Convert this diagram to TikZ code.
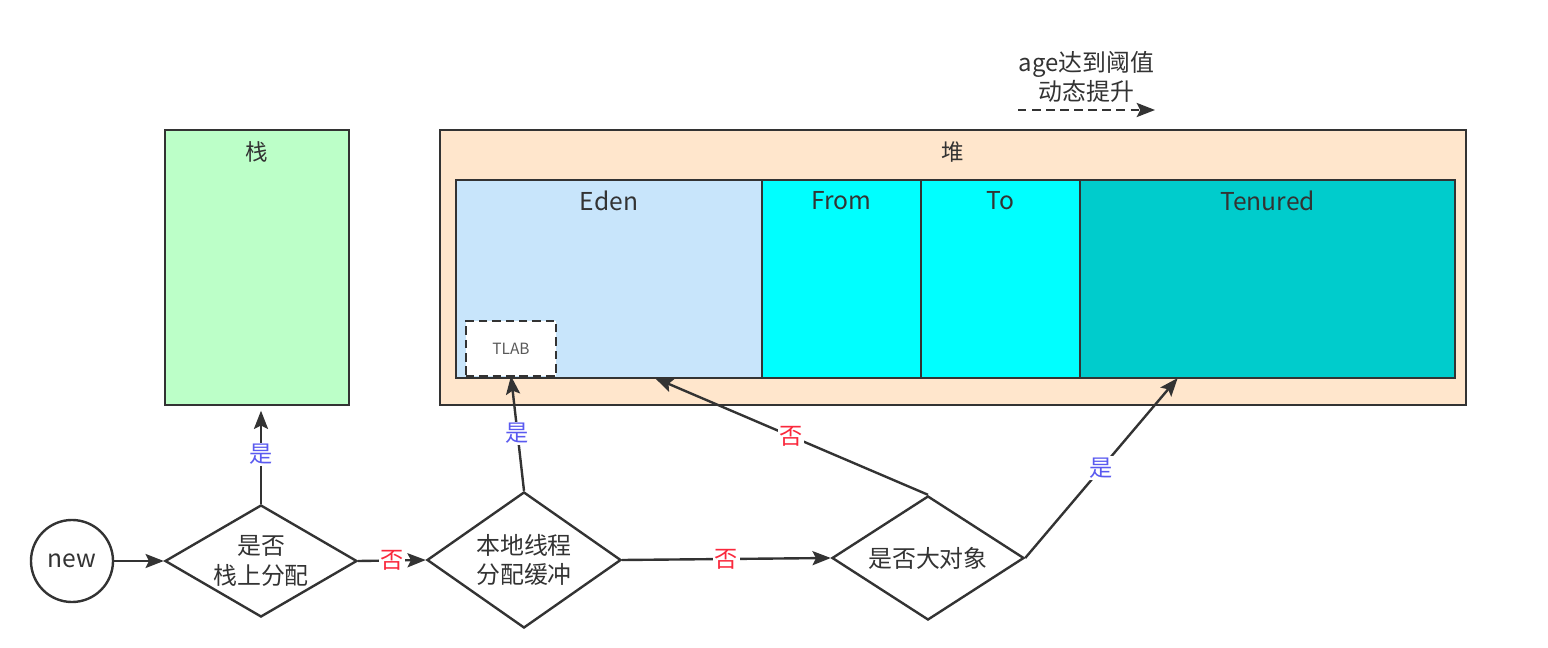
\documentclass[tikz,border=0pt]{standalone}
\usepackage{fontspec}
\setmainfont{Noto Sans CJK SC}
\usetikzlibrary{shapes.geometric,arrows.meta,positioning}
\definecolor{linec}{HTML}{333333}
\definecolor{txtc}{HTML}{333333}
\definecolor{stackc}{RGB}{188,255,200}
\definecolor{heapc}{HTML}{FFE6CC}
\definecolor{edenc}{HTML}{C8E5FB}
\definecolor{survc}{HTML}{00FFFF}
\definecolor{tenc}{HTML}{00CCCC}
\definecolor{yesc}{RGB}{90,90,240}
\definecolor{noc}{RGB}{250,40,60}

\begin{document}
\begin{tikzpicture}[x=0.025cm,y=-0.025cm,
  every node/.style={text=txtc},
  box/.style={draw=linec,line width=1.7pt,inner sep=0pt,outer sep=0pt,anchor=north west},
  boxlabel/.style={anchor=north,yshift=-5pt,font=\fontsize{16}{19}\selectfont,text=txtc},
  regionlabel/.style={anchor=north,yshift=-4.5pt,font=\fontsize{17.5}{21}\selectfont,text=txtc},
  dia/.style={diamond,draw=linec,line width=1.7pt,fill=white,inner sep=0pt,shape aspect=1.7,
    align=center,font=\fontsize{17}{21}\selectfont},
  arr/.style={draw=linec,line width=1.7pt,-{Stealth[length=13pt,width=10pt,inset=2.5pt]}},
  yes/.style={fill=white,text=yesc,inner sep=1pt,font=\fontsize{16.5}{19}\selectfont},
  no/.style={fill=white,text=noc,inner sep=1pt,font=\fontsize{16.5}{19}\selectfont}]
  \useasboundingbox (0,0) rectangle (1548,648);

  \node[box,fill=stackc,minimum width=4.6cm,minimum height=6.875cm,
    label={[boxlabel]north:栈}] (stack) at (165,130) {};
  \node[box,fill=heapc,minimum width=25.65cm,minimum height=6.875cm,
    label={[boxlabel]north:堆}] (heap) at (440,130) {};
  \node[box,fill=edenc,minimum width=7.65cm,minimum height=4.95cm,
    label={[regionlabel]north:Eden}] (eden) at (456,180) {};
  \node[box,fill=survc,minimum width=3.975cm,minimum height=4.95cm,right=0pt of eden,
    label={[regionlabel]north:From}] (from) {};
  \node[box,fill=survc,minimum width=3.975cm,minimum height=4.95cm,right=0pt of from,
    label={[regionlabel]north:To}] (to) {};
  \node[box,fill=tenc,minimum width=9.375cm,minimum height=4.95cm,right=0pt of to,
    label={[regionlabel]north:Tenured}] (tenured) {};
  \node[box,fill=white,line width=2pt,dash pattern=on 6pt off 3.5pt,
    minimum width=2.25cm,minimum height=1.375cm,text=black!65,
    font=\fontsize{11}{13}\selectfont] (tlab) at (466,321) {TLAB};

  \path (eden.south west) -- (eden.south east) coordinate[pos=0.65] (edenhit);
  \path (tenured.south west) -- (tenured.south east) coordinate[pos=0.26] (tenhit);

  \node[circle,draw=linec,line width=1.7pt,minimum size=2.05cm,inner sep=0pt,
    font=\fontsize{17.5}{21}\selectfont] (new) at (72,561) {new};
  \node[dia,minimum width=4.8cm,minimum height=2.8cm] (alloc) at (261,561) {是否\\栈上分配};
  \node[dia,minimum width=4.85cm,minimum height=3.4cm] (tlabq) at (524,560) {本地线程\\分配缓冲};
  \node[dia,minimum width=4.8cm,minimum height=3.1cm] (bigq) at (928,558) {是否大对象};

  \draw[arr] (new) -- (alloc);
  \draw[arr,shorten >=4pt] (alloc.north) -- node[yes] {是} (alloc.north |- stack.south);
  \draw[arr] (alloc.east) -- node[no] {否} (tlabq.west);
  \draw[arr] (tlabq.north) -- node[yes] {是} (tlab.south);
  \draw[arr] (tlabq.east) -- node[no] {否} (bigq.west);
  \draw[arr] (bigq.north) -- node[no] {否} (edenhit);
  \draw[arr] (bigq.east) -- node[yes] {是} (tenhit);

  \coordinate (agefrom) at (1018,110);
  \coordinate (ageto) at (1155,110);
  \draw[arr,dash pattern=on 6pt off 4pt] (agefrom) -- node[above=1pt,align=center,
    font=\fontsize{17}{21}\selectfont] {age达到阈值\\动态提升} (ageto);
\end{tikzpicture}
\end{document}
